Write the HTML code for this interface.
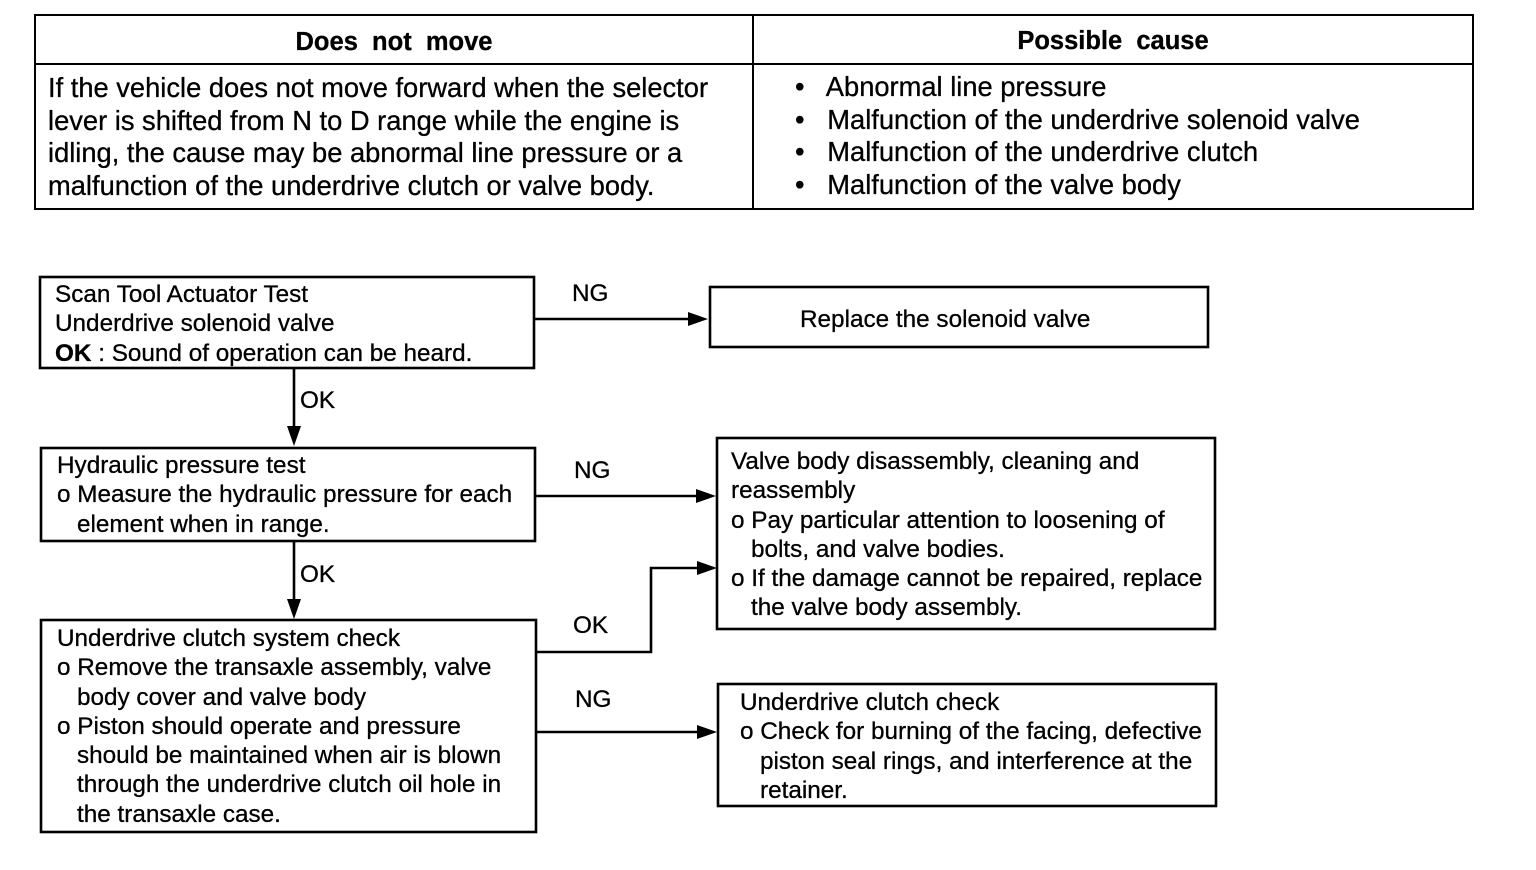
<!DOCTYPE html>
<html><head><style>
body{margin:0;background:#fff;width:1536px;height:870px;position:relative;overflow:hidden;font-family:"Liberation Sans",Arial,sans-serif;color:#000}
.t{position:absolute;white-space:nowrap;font-size:24.3px;line-height:29.3px;-webkit-text-stroke:0.3px #000}
.b{font-size:27.3px;line-height:32.5px}
.h{font-weight:bold;font-size:25.5px}
.i{padding-left:20px}
</style></head><body>
<svg width="1536" height="870" style="position:absolute;left:0;top:0">
<g fill="none" stroke="#000" stroke-width="2">
<rect x="35" y="15" width="1438" height="194"/>
<line x1="35" y1="64" x2="1473" y2="64"/>
<line x1="753" y1="15" x2="753" y2="209"/>
</g>
<g fill="none" stroke="#000" stroke-width="2.6">
<rect x="40" y="277" width="494" height="91"/>
<rect x="710" y="287" width="498" height="60"/>
<rect x="41" y="448" width="494" height="93"/>
<rect x="717" y="438" width="498" height="191"/>
<rect x="41" y="620" width="495" height="212"/>
<rect x="718" y="684" width="498" height="122"/>
<line x1="534" y1="319" x2="692" y2="319"/>
<line x1="294" y1="368" x2="294" y2="430"/>
<line x1="535" y1="496" x2="699" y2="496"/>
<line x1="294" y1="541" x2="294" y2="602"/>
<polyline points="536,652 651,652 651,568 700,568"/>
<line x1="536" y1="732" x2="700" y2="732"/>
</g>
<g fill="#000">
<polygon points="708,319 688,312 688,326"/>
<polygon points="294,446 287,426 301,426"/>
<polygon points="716,496 696,489 696,503"/>
<polygon points="294,619 287,599 301,599"/>
<polygon points="717,568 697,561 697,575"/>
<polygon points="717,732 697,725 697,739"/>
</g>
</svg>
<div class="t h" style="left:35px;width:718px;text-align:center;top:28px">Does&nbsp; not&nbsp; move</div>
<div class="t h" style="left:753px;width:720px;text-align:center;top:27px">Possible&nbsp; cause</div>
<div class="t b" style="left:48px;top:72px">If the vehicle does not move forward when the selector<br>lever is shifted from N to D range while the engine is<br>idling, the cause may be abnormal line pressure or a<br>malfunction of the underdrive clutch or valve body.</div>
<div class="t b" style="left:795px;top:71px">•&nbsp;&nbsp; Abnormal line pressure<br>•&nbsp;&nbsp; Malfunction of the underdrive solenoid valve<br>•&nbsp;&nbsp; Malfunction of the underdrive clutch<br>•&nbsp;&nbsp; Malfunction of the valve body</div>

<div class="t" style="left:55px;top:280px">Scan Tool Actuator Test<br>Underdrive solenoid valve<br><b>OK</b> : Sound of operation can be heard.</div>
<div class="t" style="left:572px;top:279px">NG</div>
<div class="t" style="left:800px;top:305px">Replace the solenoid valve</div>
<div class="t" style="left:300px;top:386px">OK</div>
<div class="t" style="left:57px;top:451px">Hydraulic pressure test<br>o Measure the hydraulic pressure for each<br><span class="i">element when in range.</span></div>
<div class="t" style="left:574px;top:456px">NG</div>
<div class="t" style="left:731px;top:447px">Valve body disassembly, cleaning and<br>reassembly<br>o Pay particular attention to loosening of<br><span class="i">bolts, and valve bodies.</span><br>o If the damage cannot be repaired, replace<br><span class="i">the valve body assembly.</span></div>
<div class="t" style="left:300px;top:560px">OK</div>
<div class="t" style="left:57px;top:624px">Underdrive clutch system check<br>o Remove the transaxle assembly, valve<br><span class="i">body cover and valve body</span><br>o Piston should operate and pressure<br><span class="i">should be maintained when air is blown</span><br><span class="i">through the underdrive clutch oil hole in</span><br><span class="i">the transaxle case.</span></div>
<div class="t" style="left:573px;top:611px">OK</div>
<div class="t" style="left:575px;top:685px">NG</div>
<div class="t" style="left:740px;top:688px">Underdrive clutch check<br>o Check for burning of the facing, defective<br><span class="i">piston seal rings, and interference at the</span><br><span class="i">retainer.</span></div>
</body></html>
